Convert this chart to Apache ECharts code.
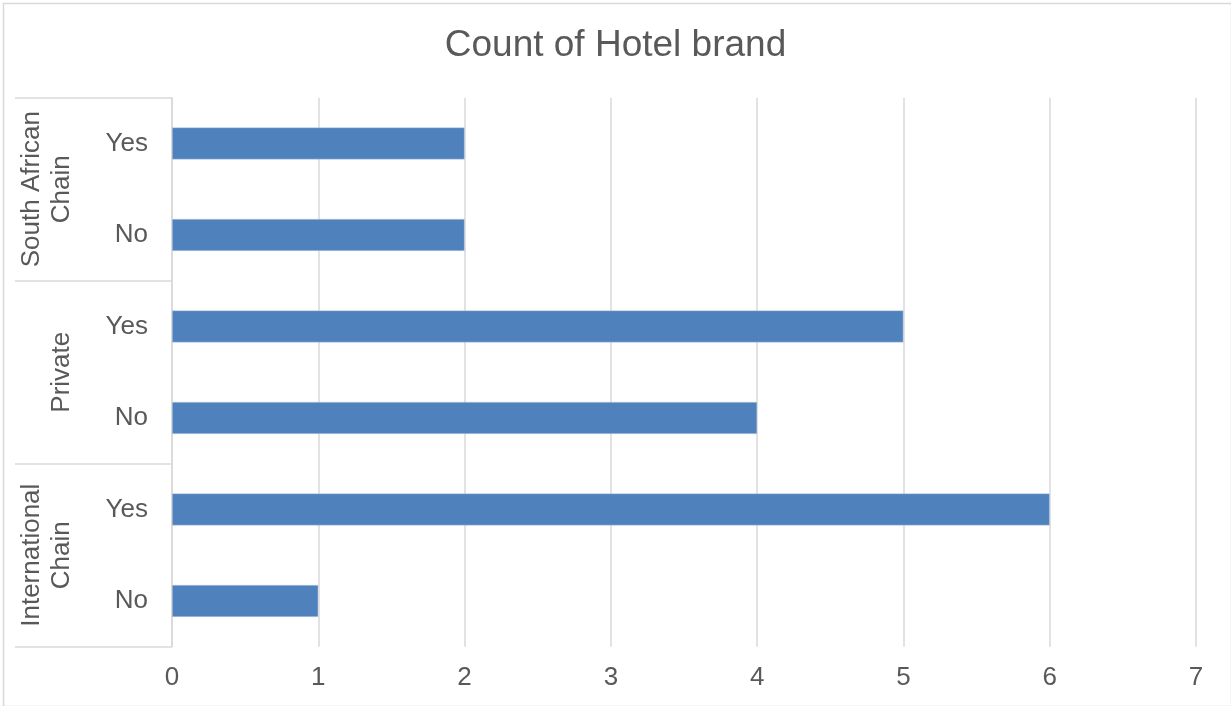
<!DOCTYPE html>
<html>
<head>
<meta charset="utf-8">
<title>Count of Hotel brand</title>
<script src="https://cdn.jsdelivr.net/npm/echarts@6/dist/echarts.min.js"></script>
<style>
  html, body { margin: 0; padding: 0; background: #ffffff; }
  #chart { width: 1231px; height: 706px; }
</style>
</head>
<body>
<div id="chart"></div>
<script>
// Outer groups (bottom to top) and the Yes/No split inside each group
const groups = ['International Chain', 'Private', 'South African Chain'];
const groupLabels = ['International\nChain', 'Private', 'South African\nChain'];
const subLabels = ['No', 'Yes'];
// Counts per row, bottom to top: Intl No, Intl Yes, Private No, Private Yes, SA No, SA Yes
const counts = [1, 6, 4, 5, 2, 2];
const xTicks = [0, 1, 2, 3, 4, 5, 6, 7];

// One composite key per row so every category stays distinct
const rowKeys = [];
groups.forEach(g => subLabels.forEach(s => rowKeys.push(g + '|' + s)));

const FONT = '"Liberation Sans", Arial, sans-serif';
const GREY_TEXT = '#595959';
const GREY_LINE = '#d9d9d9';

const chart = echarts.init(document.getElementById('chart'), null, { renderer: 'canvas' });

chart.setOption({
  animation: false,
  backgroundColor: '#ffffff',
  title: {
    text: 'Count of Hotel brand',
    left: 'center',
    top: 27,
    padding: 0,
    textStyle: { fontFamily: FONT, fontSize: 37, fontWeight: 'normal', color: GREY_TEXT }
  },
  graphic: [{
    type: 'rect',
    left: 1, top: 1,
    shape: { width: 1228, height: 703 },
    style: { fill: 'none', stroke: GREY_LINE, lineWidth: 1.5 },
    silent: true
  }],
  grid: { left: 172, right: 35, top: 97.7, bottom: 59.3, containLabel: false },
  xAxis: {
    type: 'value',
    min: xTicks[0],
    max: xTicks[xTicks.length - 1],
    interval: 1,
    axisLine: { show: false },
    axisTick: { show: false },
    axisLabel: { fontFamily: FONT, fontSize: 26, color: GREY_TEXT, margin: 18 },
    splitLine: { show: true, lineStyle: { color: GREY_LINE, width: 1.5 } }
  },
  yAxis: [
    {
      // Inner level: Yes / No
      type: 'category',
      data: rowKeys,
      position: 'left',
      axisLine: { show: true, lineStyle: { color: GREY_LINE, width: 1.5 } },
      axisTick: { show: false },
      axisLabel: {
        fontFamily: FONT, fontSize: 26, color: GREY_TEXT, margin: 24,
        formatter: v => v.split('|')[1]
      },
      splitLine: { show: false }
    },
    {
      // Outer level: hotel group, with separators between groups
      type: 'category',
      data: groupLabels,
      position: 'left',
      offset: 0,
      axisLine: { show: false },
      axisTick: {
        show: true, interval: 0, inside: false, length: 157,
        lineStyle: { color: GREY_LINE, width: 1.5 }
      },
      axisLabel: {
        fontFamily: FONT, fontSize: 26, color: GREY_TEXT,
        rotate: 90, margin: 95, interval: 0,
        align: 'center', verticalAlign: 'bottom', lineHeight: 30
      },
      splitLine: { show: false }
    }
  ],
  series: [{
    type: 'bar',
    yAxisIndex: 0,
    data: counts,
    barWidth: 32,
    itemStyle: { color: '#4f81bd', borderColor: '#c5d3e8', borderWidth: 0.5 }
  }]
});
</script>
</body>
</html>
